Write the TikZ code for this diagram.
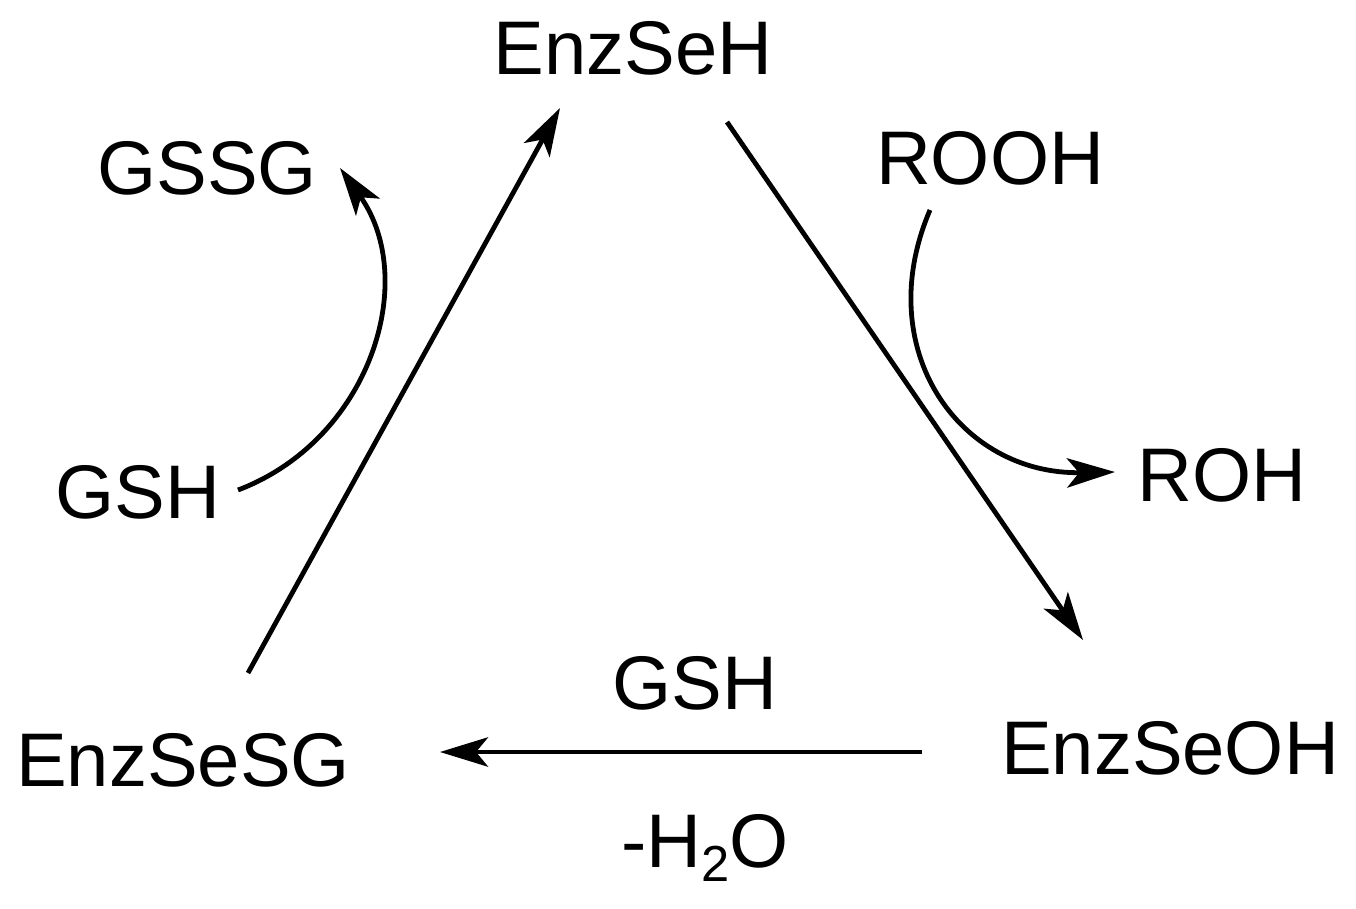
\documentclass[tikz,border=0pt]{standalone}
\usepackage{fontspec}
\setmainfont{Liberation Sans}
\usetikzlibrary{arrows.meta}
\begin{document}
\begin{tikzpicture}[x=0.75pt,y=-0.75pt,
  lbl/.style={font=\fontsize{57}{60}\selectfont,inner sep=0pt},
  arr/.style={line width=3.6pt,-{Stealth[length=36pt,width=22pt,inset=9pt]}}]
\useasboundingbox (0,0) rectangle (1356,909);
\node[lbl] (seh) at (633,48) {EnzSeH};
\node[lbl] (gssg) at (207,168) {GSSG};
\node[lbl] (rooh) at (990,158) {ROOH};
\node[lbl] (gsh1) at (138,492) {GSH};
\node[lbl] (roh) at (1222,475) {ROH};
\node[lbl] (sesg) at (183,760) {EnzSeSG};
\node[lbl] (seoh) at (1170,748) {EnzSeOH};
\node[lbl] (gsh2) at (695,683) {GSH};
\node[lbl] (h2o) at (705,848) {-H\raisebox{-10pt}{\fontsize{38}{40}\selectfont 2}O};
\coordinate (a1) at (248,673); \coordinate (a2) at (560,108);
\coordinate (b1) at (727,122); \coordinate (b2) at (1083,640);
\coordinate (c1) at (922,752); \coordinate (c2) at (440,752);
\coordinate (d1) at (238,490); \coordinate (d2) at (340,168);
\coordinate (e1) at (930,210); \coordinate (e2) at (1115,472);
\draw[arr] (a1) -- (a2);
\draw[arr] (b1) -- (b2);
\draw[arr] (c1) -- (c2);
\draw[arr] (d1) .. controls (370,440) and (420,280) .. (d2);
\draw[arr] (e1) .. controls (870,350) and (960,475) .. (e2);
\end{tikzpicture}
\end{document}
